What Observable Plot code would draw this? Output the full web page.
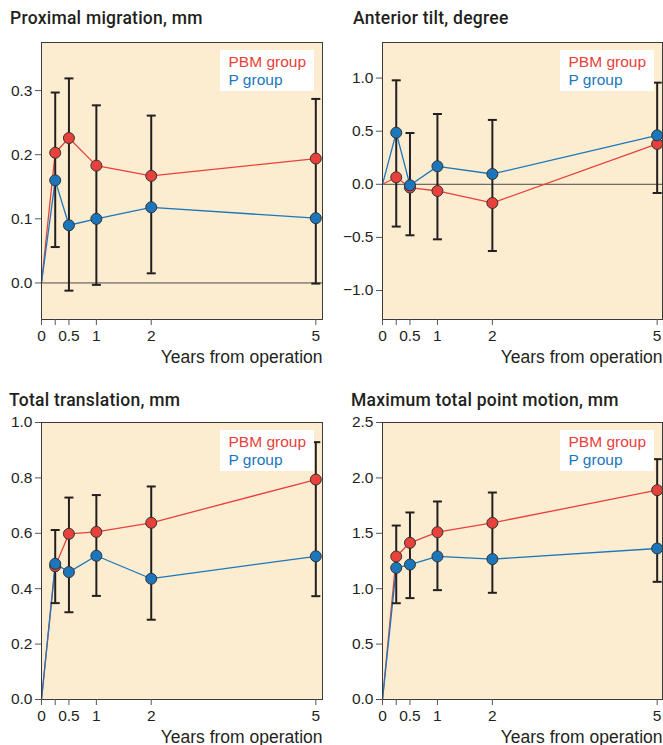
<!DOCTYPE html>
<html>
<head>
<meta charset="utf-8">
<script src="https://cdn.jsdelivr.net/npm/d3@7"></script>
<script src="https://cdn.jsdelivr.net/npm/@observablehq/plot@0.6"></script>
<style>
  html, body { margin: 0; padding: 0; background: #fff; }
  #root { position: relative; width: 663px; height: 745px; overflow: hidden; font-family: "Liberation Sans", Arial, sans-serif; color: #231f20; }
  .title { position: absolute; font-family: Roboto, "Liberation Sans", sans-serif; font-size: 17.5px; font-weight: 500; letter-spacing: 0.25px; white-space: nowrap; color: #231f20; line-height: 20px; }
  .panel { position: absolute; }
  .legend { position: absolute; background: #fff; width: 94px; height: 41px; font-size: 15.5px; line-height: 18px; box-sizing: border-box; padding: 3px 0 0 9px; white-space: nowrap; }
</style>
</head>
<body>
<div id="root"></div>
<script>
// ---- data ----
const years = [0, 0.25, 0.5, 1, 2, 5];
const xTickLabels = ["0", "", "0.5", "1", "2", "5"];
const errYears = [0.25, 0.5, 1, 2, 5];
const groupNames = ["PBM group", "P group"];

const titles = ["Proximal migration, mm", "Anterior tilt, degree", "Total translation, mm", "Maximum total point motion, mm"];
const xLabel = "Years from operation";

const proximalPBM = [0, 0.203, 0.226, 0.183, 0.167, 0.194];
const proximalP   = [0, 0.160, 0.090, 0.100, 0.118, 0.101];
const proximalErrHigh = [0.297, 0.319, 0.277, 0.261, 0.287];
const proximalErrLow  = [0.056, -0.012, -0.003, 0.015, -0.001];
const proximalTicks = [0, 0.1, 0.2, 0.3];

const tiltPBM = [0, 0.066, -0.031, -0.063, -0.176, 0.380];
const tiltP   = [0, 0.486, -0.009, 0.169, 0.097, 0.461];
const tiltErrHigh = [0.979, 0.483, 0.662, 0.606, 0.957];
const tiltErrLow  = [-0.398, -0.480, -0.518, -0.628, -0.082];
const tiltTicks = [-1, -0.5, 0, 0.5, 1];

const translationPBM = [0, 0.481, 0.598, 0.605, 0.638, 0.794];
const translationP   = [0, 0.490, 0.460, 0.519, 0.436, 0.517];
const translationErrHigh = [0.612, 0.729, 0.738, 0.769, 0.929];
const translationErrLow  = [0.348, 0.315, 0.374, 0.288, 0.373];
const translationTicks = [0, 0.2, 0.4, 0.6, 0.8, 1.0];

const mtpmPBM = [0, 1.291, 1.414, 1.510, 1.594, 1.889];
const mtpmP   = [0, 1.188, 1.218, 1.291, 1.267, 1.363];
const mtpmErrHigh = [1.570, 1.688, 1.787, 1.868, 2.169];
const mtpmErrLow  = [0.869, 0.915, 0.987, 0.963, 1.062];
const mtpmTicks = [0, 0.5, 1.0, 1.5, 2.0, 2.5];

// ---- styles ----
const RED = "#e8403b";
const BLUE = "#1b76bc";
const BG = "#fdedd0";
const INK = "#231f20";

// horizontal cap symbol for error bars
const capSymbol = {
  draw(context) {
    context.moveTo(-4.5, 0);
    context.lineTo(4.5, 0);
  }
};

const panels = [
  {title: titles[0], pbm: proximalPBM, p: proximalP, hi: proximalErrHigh, lo: proximalErrLow, ticks: proximalTicks,
   yDomain: [-0.057, 0.375], zero: true, left: 0, top: 30, width: 330, height: 340, ml: 41, mr: 8, mt: 12, mb: 51, xMax: 5.122, titleX: 10, titleY: 8},
  {title: titles[1], pbm: tiltPBM, p: tiltP, hi: tiltErrHigh, lo: tiltErrLow, ticks: tiltTicks,
   yDomain: [-1.273, 1.335], zero: true, left: 330, top: 30, width: 333, height: 340, ml: 52, mr: 1, mt: 12, mb: 51, xMax: 5.097, titleX: 353, titleY: 8},
  {title: titles[2], pbm: translationPBM, p: translationP, hi: translationErrHigh, lo: translationErrLow, ticks: translationTicks,
   yDomain: [0, 1], zero: false, left: 0, top: 410, width: 330, height: 335, ml: 41, mr: 8, mt: 12, mb: 46, xMax: 5.122, titleX: 9, titleY: 390},
  {title: titles[3], pbm: mtpmPBM, p: mtpmP, hi: mtpmErrHigh, lo: mtpmErrLow, ticks: mtpmTicks,
   yDomain: [0, 2.5], zero: false, left: 330, top: 410, width: 333, height: 335, ml: 52, mr: 1, mt: 12, mb: 46, xMax: 5.097, titleX: 351, titleY: 390}
];

const root = document.getElementById("root");

for (const cfg of panels) {
  const series = [
    ...years.map((x, i) => ({x, y: cfg.pbm[i], g: groupNames[0]})),
    ...years.map((x, i) => ({x, y: cfg.p[i], g: groupNames[1]}))
  ];
  const pbmPts = series.filter(d => d.g === groupNames[0] && d.x > 0);
  const pPts = series.filter(d => d.g === groupNames[1] && d.x > 0);
  const errs = errYears.map((x, i) => ({x, lo: cfg.lo[i], hi: cfg.hi[i]}));

  const chart = Plot.plot({
    width: cfg.width,
    height: cfg.height,
    marginLeft: cfg.ml,
    marginRight: cfg.mr,
    marginTop: cfg.mt,
    marginBottom: cfg.mb,
    style: {fontFamily: "Liberation Sans, Arial, sans-serif", color: INK, background: "transparent", overflow: "visible"},
    x: {domain: [0, cfg.xMax]},
    y: {domain: cfg.yDomain},
    marks: [
      Plot.frame({fill: BG}),
      cfg.zero ? Plot.ruleY([0], {stroke: "#4a4a4a", strokeWidth: 1}) : null,
      Plot.line(series.filter(d => d.g === groupNames[0]), {x: "x", y: "y", stroke: RED, strokeWidth: 1.3}),
      Plot.line(series.filter(d => d.g === groupNames[1]), {x: "x", y: "y", stroke: BLUE, strokeWidth: 1.3}),
      Plot.ruleX(errs, {x: "x", y1: "lo", y2: "hi", stroke: INK, strokeWidth: 2}),
      Plot.dot(errs, {x: "x", y: "hi", symbol: capSymbol, fill: "none", stroke: INK, strokeWidth: 2}),
      Plot.dot(errs, {x: "x", y: "lo", symbol: capSymbol, fill: "none", stroke: INK, strokeWidth: 2}),
      Plot.dot(pbmPts, {x: "x", y: "y", r: 5.5, fill: RED, stroke: "#333", strokeWidth: 1}),
      Plot.dot(pPts, {x: "x", y: "y", r: 5.5, fill: BLUE, stroke: "#333", strokeWidth: 1}),
      Plot.frame({stroke: "#3a3a3a", strokeWidth: 1}),
      Plot.axisY({ticks: cfg.ticks, tickFormat: d3.format(".1f"), tickSize: 6, tickPadding: 3, fontSize: 15.5, label: null, stroke: "#555"}),
      Plot.axisX({ticks: years, tickFormat: d => xTickLabels[years.indexOf(d)], tickSize: 6, tickPadding: 4, fontSize: 15.5, label: null, stroke: "#555"}),
      Plot.text([xLabel], {frameAnchor: "bottom-right", text: d => d, textAnchor: "end", dy: 43, fontSize: 17.5, fill: INK, lineAnchor: "bottom"})
    ]
  });

  const wrap = document.createElement("div");
  wrap.className = "panel";
  wrap.style.left = cfg.left + "px";
  wrap.style.top = cfg.top + "px";
  wrap.appendChild(chart);
  root.appendChild(wrap);

  const t = document.createElement("div");
  t.className = "title";
  t.textContent = cfg.title;
  t.style.left = cfg.titleX + "px";
  t.style.top = cfg.titleY + "px";
  root.appendChild(t);

  const frameRight = cfg.left + cfg.width - cfg.mr;
  const frameTop = cfg.top + cfg.mt;
  const lg = document.createElement("div");
  lg.className = "legend";
  lg.style.left = (frameRight - 8.5 - 94) + "px";
  lg.style.top = (frameTop + 8.3) + "px";
  lg.innerHTML = `<div style="color:${RED}">${groupNames[0]}</div><div style="color:${BLUE}">${groupNames[1]}</div>`;
  root.appendChild(lg);
}
</script>
</body>
</html>
